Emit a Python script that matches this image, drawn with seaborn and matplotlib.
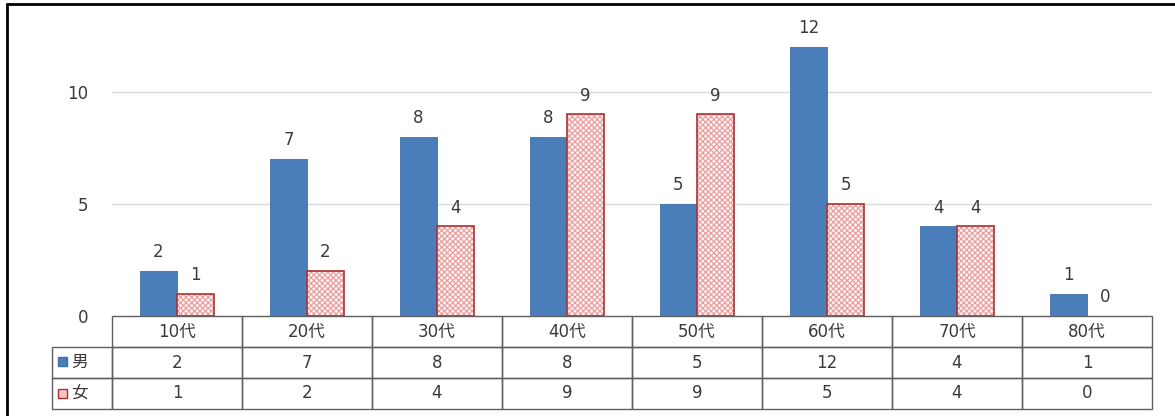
import matplotlib
matplotlib.use("Agg")
import matplotlib.pyplot as plt
import numpy as np
import pandas as pd
import seaborn as sns
from matplotlib.lines import Line2D
from matplotlib.patches import Rectangle

ages = ["10代", "20代", "30代", "40代", "50代", "60代", "70代", "80代"]
male = [2, 7, 8, 8, 5, 12, 4, 1]
female = [1, 2, 4, 9, 9, 5, 4, 0]
sexes = ["男", "女"]

sns.set_style("white")
plt.rcParams["font.family"] = ["DejaVu Sans", "Noto Sans CJK JP"]
plt.rcParams["hatch.linewidth"] = 0.8
txt = "#3a3a3a"
blue = "#4a7ebb"
red = "#a83232"
pink_hatch = "#ec9a9a"
pink_face = "#fff4f4"
fs = 12

df = pd.DataFrame({
    "age": ages * 2,
    "sex": [sexes[0]] * len(ages) + [sexes[1]] * len(ages),
    "n": male + female,
})

fig = plt.figure(figsize=(11.75, 4.16), dpi=100)
W, H = 1175, 416
ax_l, ax_r, ax_b, ymax, ppu = 112, 1152, 316, 13.5, 22.4
ax_h = ymax * ppu
ax = fig.add_axes([ax_l / W, (H - ax_b) / H, (ax_r - ax_l) / W, ax_h / H])

sns.barplot(data=df, x="age", y="n", hue="sex", order=ages, hue_order=sexes,
            palette=[blue, pink_face], width=0.57, saturation=1, legend=False, ax=ax)

for bar in ax.containers[0]:
    bar.set_edgecolor("#3f6fa8")
    bar.set_linewidth(0.6)
for bar in ax.containers[1]:
    # hatch takes the edge colour, so the outline is drawn on top separately
    bar.set_edgecolor(pink_hatch)
    bar.set_hatch("xxxxxx")
    bar.set_linewidth(0)
    if bar.get_height() > 0:
        ax.add_patch(Rectangle(bar.get_xy(), bar.get_width(), bar.get_height(),
                               facecolor="none", edgecolor=red, linewidth=1.2, zorder=3))

for c in ax.containers:
    ax.bar_label(c, padding=7, fontsize=fs, color=txt)

ax.set_xlim(-0.5, len(ages) - 0.5)
ax.set_ylim(0, ymax)
ax.set_yticks([0, 5, 10])
ax.set_yticklabels(["0", "5", "10"], fontsize=fs, color=txt)
ax.tick_params(axis="y", length=0, pad=17)
ax.set_xticks([])
ax.set_xlabel("")
ax.set_ylabel("")
for s in ax.spines.values():
    s.set_visible(False)
ax.yaxis.grid(True, color="#d9d9d9", linewidth=1)
ax.set_axisbelow(True)

# data table under the bars
lab_w = 60
col_w = (ax_r - ax_l) / len(ages)
cells = [[""] + ages,
         [""] + [str(v) for v in male],
         [""] + [str(v) for v in female]]
tab_h = 93
tbl = ax.table(cellText=cells, cellLoc="center",
               colWidths=[lab_w] + [col_w] * len(ages),
               bbox=[-lab_w / (ax_r - ax_l), -tab_h / ax_h,
                     (ax_r - ax_l + lab_w) / (ax_r - ax_l), tab_h / ax_h])
tbl.auto_set_font_size(False)
tbl.set_fontsize(fs)
for (r, c), cell in tbl.get_celld().items():
    cell.set_edgecolor("#606060")
    cell.set_linewidth(1.0)
    cell.get_text().set_color(txt)
    cell.set_facecolor("none")
tbl[0, 0].visible_edges = ""

# legend keys inside the first column
row_tops = [346, 378]
keys = [(sexes[0], blue, "#3f6fa8"), (sexes[1], "#f6c4c4", red)]
for i, (name, fc, ec) in enumerate(keys):
    yc = row_tops[i] + 16
    fig.add_artist(Rectangle((58 / W, (H - yc - 4) / H), 9 / W, 9 / H,
                             transform=fig.transFigure, facecolor=fc,
                             edgecolor=ec, linewidth=1))
    fig.text(71 / W, (H - yc) / H, name, fontsize=fs, color=txt,
             ha="left", va="center")

# outer frame of the chart
fig.add_artist(Line2D([7 / W, 7 / W], [0, (H - 4) / H], transform=fig.transFigure,
                      color="black", linewidth=2))
fig.add_artist(Line2D([7 / W, 1], [(H - 4) / H, (H - 4) / H], transform=fig.transFigure,
                      color="black", linewidth=2))

fig.savefig("out.png", dpi=100)
